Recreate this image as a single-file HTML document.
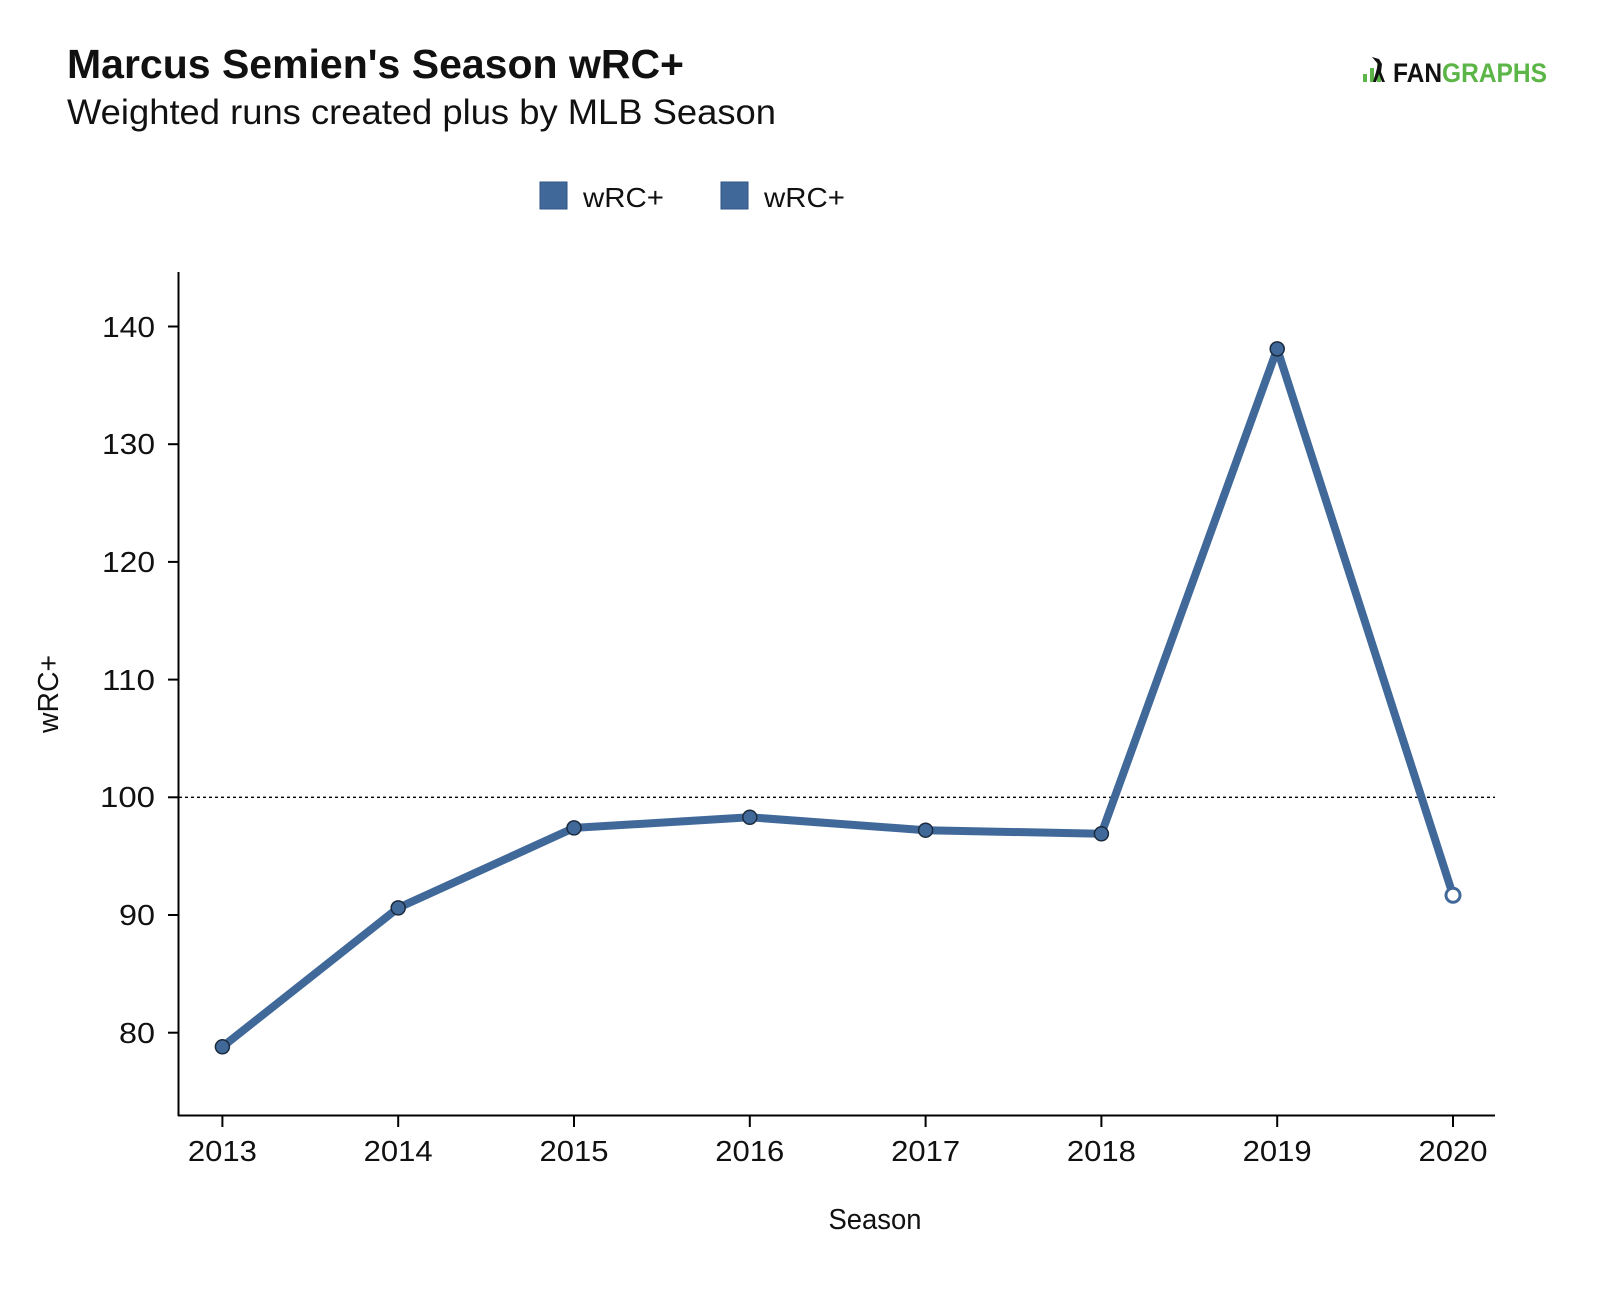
<!DOCTYPE html>
<html><head><meta charset="utf-8"><style>
html,body{margin:0;padding:0;background:#fff;}
svg text{font-family:"Liberation Sans",sans-serif;fill:#111;}
</style></head><body>
<svg width="1600" height="1294" viewBox="0 0 1600 1294" xmlns="http://www.w3.org/2000/svg">
<rect width="1600" height="1294" fill="#fff"/>
<text x="67" y="78" font-size="41" font-weight="bold" fill="#000" textLength="617" lengthAdjust="spacingAndGlyphs">Marcus Semien's Season wRC+</text>
<text x="67" y="124" font-size="35" textLength="709" lengthAdjust="spacingAndGlyphs">Weighted runs created plus by MLB Season</text>
<!-- logo -->
<g>
<rect x="1363" y="74" width="4" height="8" fill="#5cb547"/>
<rect x="1370" y="68" width="4" height="14" fill="#5cb547"/>
<rect x="1377" y="62" width="4" height="20" fill="#5cb547"/>
<path d="M1372 57 l6 7 l-2 8 l-3 10 h3 l3-8 l3 8 h3 l-4-10 l1-8 l-3-5z" fill="#111"/>
<text x="1393" y="82" font-size="27" font-weight="bold" fill="#111" textLength="154" lengthAdjust="spacingAndGlyphs">FAN<tspan fill="#5cb547">GRAPHS</tspan></text>
</g>
<!-- legend -->
<rect x="540" y="182" width="27" height="27" fill="#40699a" stroke="#2f5585"/>
<text x="583" y="207" font-size="28" textLength="81" lengthAdjust="spacingAndGlyphs">wRC+</text>
<rect x="721" y="182" width="27" height="27" fill="#40699a" stroke="#2f5585"/>
<text x="764" y="207" font-size="28" textLength="81" lengthAdjust="spacingAndGlyphs">wRC+</text>
<!-- axes -->
<line x1="178.5" y1="272" x2="178.5" y2="1116" stroke="#000" stroke-width="2"/>
<line x1="178" y1="1115.5" x2="1495" y2="1115.5" stroke="#000" stroke-width="2"/>
<g stroke="#000" stroke-width="2">
<line x1="168" y1="326.5" x2="178" y2="326.5"/>
<line x1="168" y1="444.2" x2="178" y2="444.2"/>
<line x1="168" y1="561.9" x2="178" y2="561.9"/>
<line x1="168" y1="679.6" x2="178" y2="679.6"/>
<line x1="168" y1="797.3" x2="178" y2="797.3"/>
<line x1="168" y1="915" x2="178" y2="915"/>
<line x1="168" y1="1032.7" x2="178" y2="1032.7"/>
<line x1="222.4" y1="1116" x2="222.4" y2="1127"/>
<line x1="398.2" y1="1116" x2="398.2" y2="1127"/>
<line x1="574" y1="1116" x2="574" y2="1127"/>
<line x1="749.8" y1="1116" x2="749.8" y2="1127"/>
<line x1="925.6" y1="1116" x2="925.6" y2="1127"/>
<line x1="1101.4" y1="1116" x2="1101.4" y2="1127"/>
<line x1="1277.2" y1="1116" x2="1277.2" y2="1127"/>
<line x1="1453" y1="1116" x2="1453" y2="1127"/>
</g>
<g font-size="29" text-anchor="end" lengthAdjust="spacingAndGlyphs">
<text x="155" y="337" textLength="53" lengthAdjust="spacingAndGlyphs">140</text>
<text x="155" y="454" textLength="53" lengthAdjust="spacingAndGlyphs">130</text>
<text x="155" y="572" textLength="53" lengthAdjust="spacingAndGlyphs">120</text>
<text x="155" y="690" textLength="53" lengthAdjust="spacingAndGlyphs">110</text>
<text x="155" y="807" textLength="55" lengthAdjust="spacingAndGlyphs">100</text>
<text x="155" y="925" textLength="36" lengthAdjust="spacingAndGlyphs">90</text>
<text x="155" y="1043" textLength="36" lengthAdjust="spacingAndGlyphs">80</text>
</g>
<g font-size="29" text-anchor="middle">
<text x="222.4" y="1161" textLength="69" lengthAdjust="spacingAndGlyphs">2013</text>
<text x="398.2" y="1161" textLength="69" lengthAdjust="spacingAndGlyphs">2014</text>
<text x="574" y="1161" textLength="69" lengthAdjust="spacingAndGlyphs">2015</text>
<text x="749.8" y="1161" textLength="69" lengthAdjust="spacingAndGlyphs">2016</text>
<text x="925.6" y="1161" textLength="69" lengthAdjust="spacingAndGlyphs">2017</text>
<text x="1101.4" y="1161" textLength="69" lengthAdjust="spacingAndGlyphs">2018</text>
<text x="1277.2" y="1161" textLength="69" lengthAdjust="spacingAndGlyphs">2019</text>
<text x="1453" y="1161" textLength="69" lengthAdjust="spacingAndGlyphs">2020</text>
<text x="875" y="1229" textLength="93" lengthAdjust="spacingAndGlyphs">Season</text>
<text transform="translate(58,694) rotate(-90)" textLength="78" lengthAdjust="spacingAndGlyphs">wRC+</text>
</g>
<line x1="179" y1="797.3" x2="1495" y2="797.3" stroke="#000" stroke-width="1.3" stroke-dasharray="3,3"/>
<polyline fill="none" stroke="#40699a" stroke-width="8" stroke-linejoin="round" stroke-linecap="round"
points="222.4,1046.8 398.2,907.9 574,827.9 749.8,817.3 925.6,830.2 1101.4,833.8 1277.2,348.9 1453,895.2"/>
<g fill="#40699a" stroke="#1b2a3d" stroke-width="1.5">
<circle cx="222.4" cy="1046.8" r="7"/>
<circle cx="398.2" cy="907.9" r="7"/>
<circle cx="574" cy="827.9" r="7"/>
<circle cx="749.8" cy="817.3" r="7"/>
<circle cx="925.6" cy="830.2" r="7"/>
<circle cx="1101.4" cy="833.8" r="7"/>
<circle cx="1277.2" cy="348.9" r="7"/>
</g>
<circle cx="1453" cy="895.2" r="7" fill="#fff" stroke="#40699a" stroke-width="3"/>
</svg>
</body></html>
